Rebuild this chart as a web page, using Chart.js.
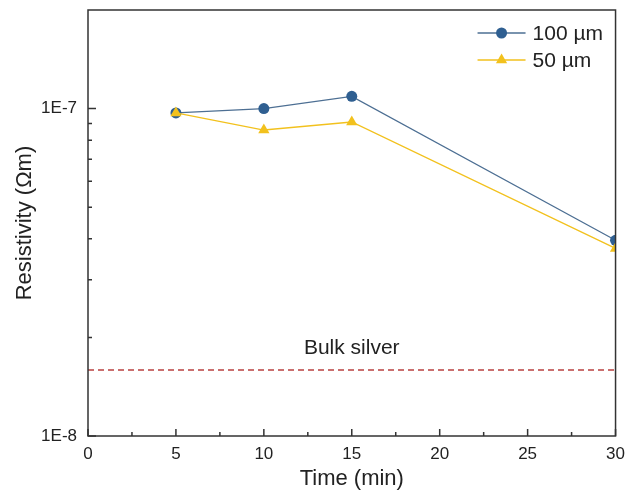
<!DOCTYPE html>
<html>
<head>
<meta charset="utf-8">
<script src="https://cdn.jsdelivr.net/npm/chart.js@4"></script>
<style>
  html, body { margin: 0; padding: 0; background: #fff; }
  #wrap { width: 625px; height: 498px; }
</style>
</head>
<body>
<div id="wrap"><canvas id="chart-resistivity"></canvas></div>
<script>
// data
const times = [5, 10, 15, 30];
const rho100 = [9.7e-8, 1.0e-7, 1.09e-7, 3.96e-8];
const rho50 = [9.7e-8, 8.6e-8, 9.1e-8, 3.74e-8];
const bulkX = [0, 30];
const bulkRho = 1.59e-8;
const bulkLabel = "Bulk silver";
const xMajor = [0, 5, 10, 15, 20, 25, 30];
const xTicks = [0, 2.5, 5, 7.5, 10, 12.5, 15, 17.5, 20, 22.5, 25, 27.5, 30];

const FONT = "'Liberation Sans', Arial, sans-serif";
const INK = "#222";
const BLUE = "#2f5f91";
const BLUE_LINE = "#4d6f93";
const YELLOW = "#f2c11d";
const RED = "#b9403f";

const toPts = (ys) => times.map((t, i) => ({ x: t, y: ys[i] }));
const isInt = (m) => Math.abs(m - Math.round(m)) < 1e-6;

// ─── Plugins ──────────────────────────────────────────────────────────────────

// frame + inward ticks like the original plot
const frameTicks = {
  id: "frameTicks",
  afterDraw(chart) {
    const { ctx, chartArea: a, scales } = chart;
    ctx.save();
    ctx.strokeStyle = "#333";
    ctx.lineWidth = 1.5;
    ctx.strokeRect(a.left, a.top, a.right - a.left, a.bottom - a.top);

    ctx.beginPath();
    scales.x.ticks.forEach((t) => {
      const px = scales.x.getPixelForValue(t.value);
      const len = xMajor.includes(t.value) ? 7 : 4;
      ctx.moveTo(px, a.bottom);
      ctx.lineTo(px, a.bottom - len);
    });
    scales.y.ticks.forEach((t) => {
      const e = Math.floor(Math.log10(t.value) + 1e-9);
      const m = t.value / Math.pow(10, e);
      if (!isInt(m) || t.value >= 2e-7) return;
      const py = scales.y.getPixelForValue(t.value);
      ctx.moveTo(a.left, py);
      ctx.lineTo(a.left + (t.label !== "" ? 8 : 4), py);
    });
    ctx.stroke();
    ctx.restore();
  },
};

// in-plot legend (top right) and "Bulk silver" annotation
const annotations = {
  id: "annotations",
  afterDatasetsDraw(chart) {
    const { ctx, chartArea: a, scales } = chart;
    ctx.save();
    ctx.font = "21px " + FONT;
    ctx.fillStyle = INK;
    ctx.textBaseline = "middle";
    ctx.textAlign = "center";
    ctx.fillText(bulkLabel, scales.x.getPixelForValue(15), scales.y.getPixelForValue(bulkRho) - 22);

    ctx.textAlign = "left";
    chart.data.datasets.forEach((ds, i) => {
      if (!ds.inLegend) return;
      const y = a.top + 23 + i * 27;
      const x0 = a.right - 138;
      ctx.strokeStyle = ds.borderColor;
      ctx.lineWidth = ds.borderWidth;
      ctx.beginPath();
      ctx.moveTo(x0, y);
      ctx.lineTo(x0 + 48, y);
      ctx.stroke();
      ctx.fillStyle = ds.pointBackgroundColor;
      Chart.helpers.drawPoint(ctx, {
        pointStyle: ds.pointStyle,
        radius: ds.pointRadius,
        rotation: 0,
        borderWidth: 0,
      }, x0 + 24, y);
      ctx.fillStyle = INK;
      ctx.fillText(ds.label, x0 + 55, y + 1);
    });
    ctx.restore();
  },
};

// ─── Chart ────────────────────────────────────────────────────────────────────

new Chart(document.getElementById("chart-resistivity"), {
  type: "line",
  data: {
    datasets: [
      {
        label: "100 µm",
        inLegend: true,
        data: toPts(rho100),
        borderColor: BLUE_LINE,
        borderWidth: 1.3,
        pointStyle: "circle",
        pointRadius: 5.5,
        pointBackgroundColor: BLUE,
        pointBorderWidth: 0,
        order: 1,
      },
      {
        label: "50 µm",
        inLegend: true,
        data: toPts(rho50),
        borderColor: YELLOW,
        borderWidth: 1.3,
        pointStyle: "triangle",
        pointRadius: 6.5,
        pointBackgroundColor: YELLOW,
        pointBorderWidth: 0,
        order: 0,
      },
      {
        label: bulkLabel,
        data: bulkX.map((x) => ({ x, y: bulkRho })),
        borderColor: RED,
        borderWidth: 1.4,
        borderDash: [6, 4],
        pointRadius: 0,
        order: 2,
      },
    ],
  },
  options: {
    responsive: true,
    maintainAspectRatio: false,
    animation: false,
    layout: { padding: { top: 10, right: 0, left: 0, bottom: 0 } },
    plugins: { legend: { display: false }, tooltip: { enabled: false } },
    scales: {
      x: {
        type: "linear",
        min: 0,
        max: 30,
        afterFit: (s) => { s.height = 62; },
        afterBuildTicks: (s) => {
          s.ticks = xTicks.map((v) => ({ value: v }));
        },
        grid: { display: false },
        border: { display: false },
        ticks: {
          autoSkip: false,
          maxRotation: 0,
          padding: 0,
          color: INK,
          font: { family: FONT, size: 17 },
          callback: (v) => (xMajor.includes(v) ? String(v) : ""),
        },
        title: {
          display: true,
          text: "Time (min)",
          color: INK,
          font: { family: FONT, size: 22 },
          padding: { top: 4, bottom: 6 },
        },
      },
      y: {
        type: "logarithmic",
        min: 1e-8,
        max: 2e-7,
        afterFit: (s) => { s.width = 88; s.paddingTop = 0; },
        grid: { display: false },
        border: { display: false },
        ticks: {
          autoSkip: false,
          padding: 3,
          color: INK,
          font: { family: FONT, size: 17 },
          callback: (v) => {
            const e = Math.log10(v);
            return isInt(e) ? "1E" + Math.round(e) : "";
          },
        },
        title: {
          display: true,
          text: "Resistivity (Ωm)",
          color: INK,
          font: { family: FONT, size: 22 },
          padding: { top: 12, bottom: 0 },
        },
      },
    },
  },
  plugins: [frameTicks, annotations],
});
</script>
</body>
</html>
